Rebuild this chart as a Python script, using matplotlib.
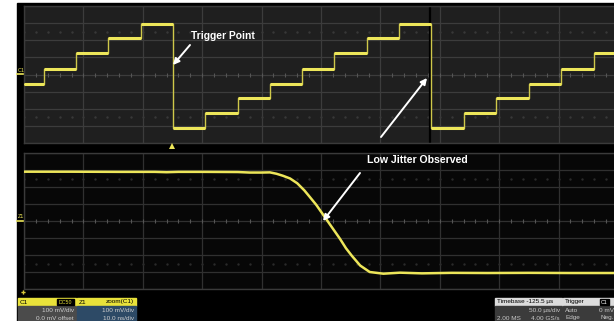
import numpy as np
import matplotlib
matplotlib.use("Agg")
import matplotlib.pyplot as plt
from matplotlib.patches import Rectangle

plt.rcParams['font.family'] = ['Liberation Sans', 'DejaVu Sans']

# C1: staircase, time in us (trigger at 0), level in mV
step_times = [-125.5, -108.6, -81.6, -54.7, -26.9, 0.0, 26.9, 54.7, 81.6, 108.6,
              135.5, 163.3, 190.2, 217.2, 244.9, 271.9, 299.7, 326.6, 354.4, 374.5]
step_levels = [-53, 35, 123, 211, 292, -310, -222, -140, -53, 35,
               123, 211, 292, -310, -222, -140, -53, 35, 123, 123]

# Z1: zoom of the falling edge, time in ns, level in mV
zoom_t = [0, 8, 16, 22, 24, 26, 30, 36, 38, 40, 41.4, 42.5, 43.6, 44.8, 46.0,
          47.2, 48.1, 49.2, 50.2, 51.2, 52.0, 53.2, 54.2, 55.2, 56.6, 58.2,
          60.5, 63.3, 67, 72, 78, 85, 92, 100]
zoom_v = [290, 290, 289, 289, 287, 289, 289, 288, 285, 285, 286, 278, 266, 250, 222,
          180, 142, 95, 45, -5, -45, -105, -160, -205, -262, -300,
          -310, -304, -308, -305, -306, -305, -306, -306]

W, H = 614, 321
fig = plt.figure(figsize=(W / 100, H / 100), dpi=100)
fig.patch.set_facecolor('white')

# background / frame in pixel coordinates
bg = fig.add_axes([0, 0, 1, 1], zorder=0)
bg.set_xlim(0, W)
bg.set_ylim(H, 0)
bg.axis('off')
bg.add_patch(Rectangle((17, 3), W - 17, H - 3, color='black'))

yellow = '#ede65a'


def scope_axes(rect, face):
    x0, y0, x1, y1 = rect
    ax = fig.add_axes([x0 / W, 1 - y1 / H, (x1 - x0) / W, (y1 - y0) / H], zorder=2)
    ax.set_facecolor(face)
    for s in ax.spines.values():
        s.set_color('#3a3a3a')
        s.set_linewidth(1.0)
    ax.tick_params(left=False, bottom=False, labelleft=False, labelbottom=False)
    return ax


def draw_grid(ax, xmin, xdiv, line_col, dot_col):
    xs = xmin + xdiv * np.arange(11)
    ys = np.arange(-400, 401, 100)
    for x in xs:
        ax.axvline(x, color=line_col, lw=0.9, zorder=1)
    for y in ys:
        ax.axhline(y, color=line_col, lw=0.9, zorder=1)
    fine = xmin + xdiv / 5 * np.arange(51)
    ax.plot(fine, np.zeros_like(fine), ls='none', marker='|', ms=3, mew=0.8,
            color='#555555', zorder=1)
    for y in (250, -250):
        ax.plot(fine, np.full_like(fine, y), ls='none', marker='s', ms=0.7,
                color=dot_col, zorder=1)
    ax.set_xlim(xmin, xmin + 10 * xdiv)
    ax.set_ylim(-400, 400)


# top panel: C1 acquisition
top = scope_axes((24, 6, 618, 143), '#1f1f1f')
draw_grid(top, -125.5, 50.0, '#3c3c3c', '#383838')
top.axvline(216.0, color='black', lw=1.6, zorder=2)
top.step(step_times, step_levels, where='post', color='#cfc84a', lw=1.0, zorder=3)
top.hlines(step_levels[:-1], step_times[:-1], step_times[1:], color=yellow, lw=2.2, zorder=4)

# bottom panel: Z1 zoom
bot = scope_axes((24, 153, 618, 289), '#070707')
draw_grid(bot, 0.0, 10.0, '#303030', '#2a2a2a')
bot.plot(zoom_t, zoom_v, color=yellow, lw=1.8, zorder=3, solid_capstyle='round')

# overlay: annotations and labels in pixel coordinates
fg = fig.add_axes([0, 0, 1, 1], zorder=5)
fg.set_xlim(0, W)
fg.set_ylim(H, 0)
fg.axis('off')
fg.patch.set_alpha(0)

arrow = dict(arrowstyle='-|>', color='white', lw=1.4, mutation_scale=9,
             shrinkA=0, shrinkB=0)
fg.annotate('', xy=(173, 65), xytext=(190, 45), arrowprops=arrow)
fg.text(191, 36, 'Trigger Point', color='white', fontsize=7.4, fontweight='bold',
        va='center', ha='left')
fg.annotate('', xy=(427, 78), xytext=(381, 137), arrowprops=arrow)
fg.annotate('', xy=(323, 221), xytext=(360, 173), arrowprops=arrow)
fg.text(367, 160, 'Low Jitter Observed', color='white', fontsize=7.6,
        fontweight='bold', va='center', ha='left')

# channel markers
fg.text(18, 70, 'C1', color=yellow, fontsize=4, va='center', ha='left')
fg.plot([17, 23], [74, 74], color=yellow, lw=1.2)
fg.text(18, 217, 'Z1', color=yellow, fontsize=4, va='center', ha='left')
fg.plot([17, 23], [221, 221], color=yellow, lw=1.2)
fg.plot([172], [146], marker='^', ms=4, color=yellow, mew=0)
fg.plot([23], [292], marker='P', ms=3, color='#d8c83a', mew=0)

# status bar boxes
fs = 4.6


def box(x0, x1, head_col, body_col, left_txt, right_txt, rows, txt_col):
    fg.add_patch(Rectangle((x0, 298), x1 - x0, 8, color=head_col))
    fg.add_patch(Rectangle((x0, 306), x1 - x0, H - 306, color=body_col))
    fg.text(x0 + 2, 302, left_txt, fontsize=fs, color='black', va='center', ha='left')
    if right_txt:
        fg.text(x1 - 2, 302, right_txt, fontsize=fs, color='black', va='center', ha='right')
    for i, (l, r) in enumerate(rows):
        y = 310.5 + 7.5 * i
        if l:
            fg.text(x0 + 2, y, l, fontsize=fs, color=txt_col, va='center', ha='left')
        if r:
            fg.text(x1 - 2, y, r, fontsize=fs, color=txt_col, va='center', ha='right')


box(18, 76, '#e9e23a', '#4b4b4b', 'C1', None,
    [(None, '100 mV/div'), (None, '0.0 mV offset')], '#d0d0d0')
fg.add_patch(Rectangle((57, 299.2), 17, 5.6, color='black'))
fg.text(65.5, 302, 'DC50', fontsize=3.8, color='#e9e23a', va='center', ha='center')
box(77, 136, '#e9e23a', '#2d4a66', 'Z1', 'zoom(C1)',
    [(None, '100 mV/div'), (None, '10.0 ns/div')], '#d0d0d0')
box(495, 562, '#dcdcdc', '#3b3b3b', 'Timebase -125.5 µs', None,
    [(None, '50.0 µs/div'), ('2.00 MS', '4.00 GS/s')], '#c8c8c8')
box(563, 616, '#dcdcdc', '#3b3b3b', 'Trigger', None,
    [('Auto', '0 mV'), ('Edge', 'Neg.')], '#c8c8c8')
fg.add_patch(Rectangle((600, 299), 9, 6, color='black'))
fg.text(604.5, 302, 'C1', fontsize=3.8, color='white', va='center', ha='center')

fig.savefig('out.png', dpi=100, facecolor='white')
